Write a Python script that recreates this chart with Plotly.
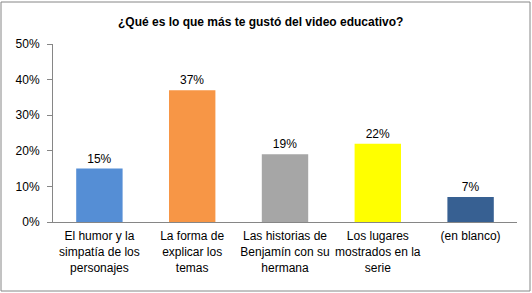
import plotly.graph_objects as go

categories = [
    "El humor y la<br>simpatía de los<br>personajes",
    "La forma de<br>explicar los<br>temas",
    "Las historias de<br>Benjamín con su<br>hermana",
    "Los lugares<br>mostrados en la<br>serie",
    "(en blanco)",
]
values = [0.15, 0.37, 0.19, 0.22, 0.07]
value_labels = ["15%", "37%", "19%", "22%", "7%"]
colors = ["#558ED5", "#F79646", "#A6A6A6", "#FFFF00", "#376092"]

FONT = "Liberation Sans, Arial, sans-serif"

fig = go.Figure(go.Bar(
    x=categories, y=values, marker=dict(color=colors, line=dict(width=0)),
    text=value_labels, textposition="outside", cliponaxis=False,
    textfont=dict(family=FONT, size=12, color="#000000"),
))

fig.update_layout(
    width=532, height=293,
    margin=dict(l=53, r=15, t=44, b=71),
    paper_bgcolor="white", plot_bgcolor="white",
    bargap=0.5, showlegend=False,
    font=dict(family=FONT, size=12, color="#000000"),
    title=dict(text="<b>¿Qué es lo que más te gustó del video educativo?</b>",
               x=0.49, xanchor="center", y=0.925, yanchor="middle",
               font=dict(family=FONT, size=12, color="#000000")),
    xaxis=dict(showline=True, linecolor="#868686", linewidth=1, ticks="",
               showgrid=False, ticklabelstandoff=3,
               tickfont=dict(family=FONT, size=12, color="#000000")),
    yaxis=dict(range=[0, 0.5], dtick=0.1, tickformat=".0%", showline=True,
               linecolor="#868686", linewidth=1, ticks="outside", ticklen=5,
               tickcolor="#868686", showgrid=False, zeroline=False,
               ticklabelstandoff=5,
               tickfont=dict(family=FONT, size=12, color="#000000")),
    shapes=[dict(type="rect", xref="paper", yref="paper",
                 x0=-52/464, x1=1 + 13/464, y0=-69/178, y1=1 + 42/178,
                 line=dict(color="#868686", width=1))],
)

fig.write_html("out.html", config={"displayModeBar": False},
               post_script="document.body.style.margin='0';document.body.style.overflow='hidden';")
